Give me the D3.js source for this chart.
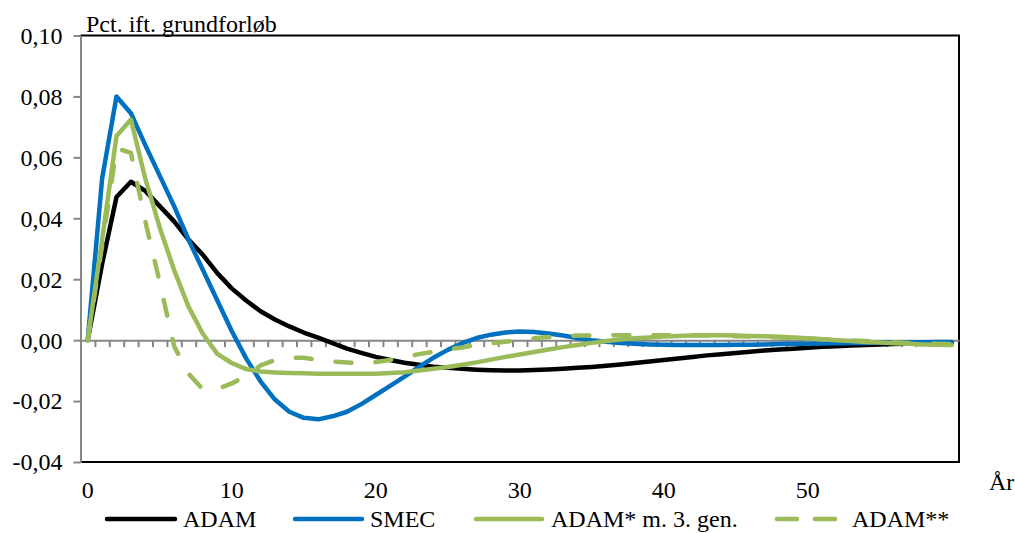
<!DOCTYPE html>
<html>
<head>
<meta charset="utf-8">
<script src="https://cdn.jsdelivr.net/npm/d3@7"></script>
<style>
  html, body { margin: 0; padding: 0; background: #fff; }
  svg { display: block; }
  text { font-family: "Liberation Serif", "Times New Roman", serif; fill: #000; }
</style>
</head>
<body>
<svg id="chart" width="1015" height="533"></svg>
<script>
// ---------- data ----------
const years = d3.range(0, 61);
const xTickLabels = [0, 10, 20, 30, 40, 50];
const yTickValues = [0.10, 0.08, 0.06, 0.04, 0.02, 0.00, -0.02, -0.04];
const yAxisTitle = "Pct. ift. grundforløb";
const xAxisTitle = "År";
const seriesNames = ["ADAM", "SMEC", "ADAM* m. 3. gen.", "ADAM**"];

const adam = [0, 0.025, 0.047, 0.052, 0.049, 0.044, 0.039, 0.033, 0.028, 0.022,
  0.017, 0.013, 0.0095, 0.0068, 0.0045, 0.0025, 0.0008, -0.001, -0.0028, -0.0042,
  -0.0055, -0.0065, -0.0074, -0.0081, -0.0087, -0.0091, -0.0094, -0.0097, -0.0099, -0.0100,
  -0.0100, -0.0098, -0.0096, -0.0094, -0.0091, -0.0088, -0.0084, -0.0080, -0.0075, -0.0070,
  -0.0065, -0.0060, -0.0055, -0.0050, -0.0046, -0.0042, -0.0038, -0.0034, -0.0031, -0.0028,
  -0.0025, -0.0022, -0.0020, -0.0018, -0.0016, -0.0014, -0.0013, -0.0011, -0.0010, -0.0009,
  -0.0008];

const smec = [0, 0.053, 0.080, 0.0745, 0.064, 0.054, 0.044, 0.033, 0.023, 0.013,
  0.003, -0.006, -0.0135, -0.0195, -0.0235, -0.0255, -0.026, -0.025, -0.0235, -0.021,
  -0.018, -0.015, -0.012, -0.0088, -0.0058, -0.0032, -0.001, 0.0007, 0.0018, 0.0025,
  0.0028, 0.0027, 0.0022, 0.0015, 0.0007, 0.0000, -0.0005, -0.0009, -0.0012, -0.0014,
  -0.0015, -0.0016, -0.0016, -0.0016, -0.0016, -0.0015, -0.0015, -0.0014, -0.0013, -0.0012,
  -0.0012, -0.0011, -0.0010, -0.0009, -0.0009, -0.0008, -0.0008, -0.0007, -0.0007, -0.0006,
  -0.0006];

const adamStar = [0, 0.033, 0.067, 0.0724, 0.053, 0.037, 0.023, 0.011, 0.002, -0.0045,
  -0.0075, -0.0095, -0.0103, -0.0106, -0.0108, -0.0109, -0.011, -0.011, -0.011, -0.011,
  -0.011, -0.0108, -0.0105, -0.0100, -0.0094, -0.0088, -0.0081, -0.0073, -0.0064, -0.0055,
  -0.0047, -0.0039, -0.0031, -0.0023, -0.0016, -0.0009, -0.0003, 0.0002, 0.0006, 0.0009,
  0.0012, 0.0014, 0.0015, 0.0016, 0.0016, 0.0015, 0.0014, 0.0013, 0.0011, 0.0009,
  0.0006, 0.0003, 0.0000, -0.0003, -0.0006, -0.0008, -0.0010, -0.0012, -0.0014, -0.0015,
  -0.0016];

const adamStar2 = [0, 0.031, 0.063, 0.0615, 0.039, 0.019, -0.002, -0.011, -0.0162, -0.016,
  -0.0142, -0.0117, -0.0083, -0.0065, -0.0058, -0.0058, -0.0065, -0.007, -0.0073, -0.0077,
  -0.0072, -0.0065, -0.0055, -0.0046, -0.0038, -0.003, -0.0024, -0.0015, -0.001, -0.0005,
  0.0000, 0.0006, 0.0010, 0.0013, 0.0015, 0.0015, 0.0016, 0.0016, 0.0016, 0.0016,
  0.0016, 0.0016, 0.0016, 0.0015, 0.0015, 0.0013, 0.0012, 0.0010, 0.0009, 0.0007,
  0.0005, 0.0003, 0.0001, -0.0001, -0.0003, -0.0005, -0.0007, -0.0009, -0.0010, -0.0012,
  -0.0013];

// ---------- layout / style ----------
const plotLeft = 80.5, plotRight = 959, plotTop = 35.5, plotBottom = 462;
const styles = [
  { color: "#000000", dash: null },
  { color: "#0070C0", dash: null },
  { color: "#9BBB59", dash: null },
  { color: "#9BBB59", dash: "16,24" }
];
const legendLayout = [
  { x1: 107, x2: 175, tx: 183 },
  { x1: 295, x2: 362, tx: 370 },
  { x1: 476, x2: 542, tx: 551 },
  { x1: 777, x2: 837, tx: 852 }
];
const legendY = 519, legendTextY = 527;

const svg = d3.select("#chart");
const x = d3.scaleLinear().domain([-0.5, 60.5]).range([plotLeft, plotRight]);
const y = d3.scaleLinear().domain([-0.04, 0.10]).range([plotBottom, plotTop]);

// plot border (top, right, bottom in black)
svg.append("path")
  .attr("d", `M${plotLeft},${plotTop}H${plotRight}V${plotBottom}H${plotLeft}`)
  .attr("fill", "none").attr("stroke", "#000").attr("stroke-width", 2);

// y axis
const yAxis = d3.axisLeft(y).tickValues(yTickValues).tickSize(7).tickSizeOuter(0)
  .tickFormat(d => d3.format(".2f")(d).replace(".", ",").replace("−", "-"));
const gy = svg.append("g").attr("transform", `translate(${plotLeft},0)`).call(yAxis);
gy.select(".domain").attr("stroke", "#868686").attr("stroke-width", 2);
gy.selectAll(".tick line").attr("stroke", "#868686").attr("stroke-width", 2);
gy.selectAll(".tick text").attr("font-size", 24).attr("x", -18).attr("dy", "0.33em")
  .attr("fill", "#000")
  .style("font-family", "'Liberation Serif', serif");

// x axis at zero line, ticks at category boundaries
const xAxis = d3.axisBottom(x).tickValues(d3.range(0.5, 60, 1)).tickSize(7)
  .tickSizeOuter(0).tickFormat("");
const gx = svg.append("g").attr("transform", `translate(0,${y(0)})`).call(xAxis);
gx.select(".domain").attr("stroke", "#868686").attr("stroke-width", 2);
gx.selectAll(".tick line").attr("stroke", "#868686").attr("stroke-width", 2);

// x labels
svg.append("g").selectAll("text").data(xTickLabels).join("text")
  .attr("x", d => x(d)).attr("y", 498).attr("text-anchor", "middle")
  .attr("font-size", 24).text(d => d);

svg.append("text").attr("x", 989).attr("y", 490).attr("font-size", 24).text(xAxisTitle);
svg.append("text").attr("x", 86).attr("y", 32).attr("font-size", 24).text(yAxisTitle);

// lines
const seriesData = [adam, smec, adamStar, adamStar2];
const line = d3.line().x((d, i) => x(years[i])).y(d => y(d)).curve(d3.curveLinear);
seriesData.forEach((vals, i) => {
  svg.append("path").datum(vals)
    .attr("d", line)
    .attr("fill", "none")
    .attr("stroke", styles[i].color)
    .attr("stroke-width", 4.5)
    .attr("stroke-linejoin", "round")
    .attr("stroke-linecap", "round")
    .attr("stroke-dasharray", styles[i].dash);
});

// legend
seriesNames.forEach((name, i) => {
  const L = legendLayout[i];
  svg.append("line").attr("x1", L.x1).attr("x2", L.x2).attr("y1", legendY).attr("y2", legendY)
    .attr("stroke", styles[i].color).attr("stroke-width", 4.5)
    .attr("stroke-linecap", "round")
    .attr("stroke-dasharray", styles[i].dash ? "20,18" : null);
  svg.append("text").attr("x", L.tx).attr("y", legendTextY).attr("font-size", 24).text(name);
});
</script>
</body>
</html>
